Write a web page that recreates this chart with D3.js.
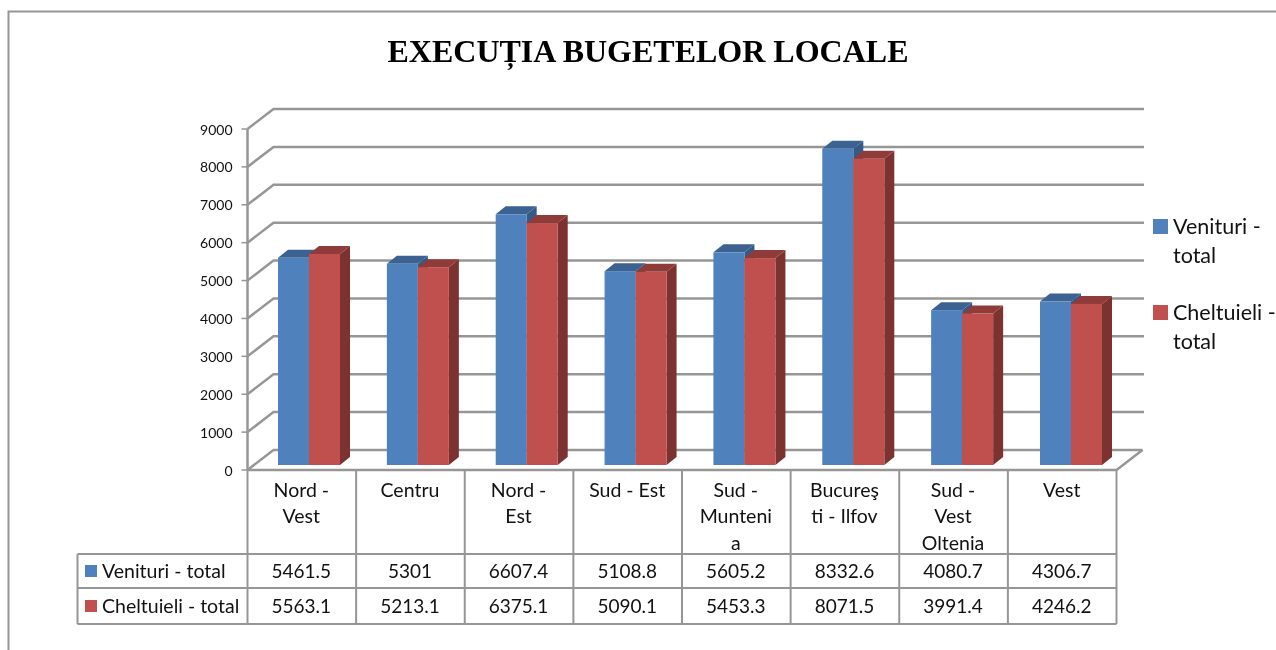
<!DOCTYPE html>
<html><head><meta charset="utf-8">
<script src="https://cdn.jsdelivr.net/npm/d3@7/dist/d3.min.js"></script>
<style>html,body{margin:0;padding:0;background:#fff}svg{display:block;filter:blur(0.35px)}text{font-family:Lato,"Open Sans",sans-serif;fill:#111}</style>
</head><body><svg id="c" width="1276" height="650"></svg>
<script>
const chartTitle = "EXECUȚIA BUGETELOR LOCALE";
const categories = ["Nord - Vest","Centru","Nord - Est","Sud - Est","Sud - Muntenia","București - Ilfov","Sud - Vest Oltenia","Vest"];
const categoryLines = [["Nord -","Vest"],["Centru"],["Nord -","Est"],["Sud - Est"],["Sud -","Munteni","a"],["Bucureş","ti - Ilfov"],["Sud -","Vest","Oltenia"],["Vest"]];
const seriesNames = ["Venituri - total","Cheltuieli - total"];
const venituri = [5461.5,5301,6607.4,5108.8,5605.2,8332.6,4080.7,4306.7];
const cheltuieli = [5563.1,5213.1,6375.1,5090.1,5453.3,8071.5,3991.4,4246.2];
const yTicks = [0,1000,2000,3000,4000,5000,6000,7000,8000,9000];
const colors = ["#4f81bd","#c0504d"];
const topColors = ["#3b6291","#8f3b39"];
const sideColors = ["#365a85","#7b3230"];

const grey = "#969696";
const svg = d3.select("#c");
svg.append("path").attr("d","M8.5,650V11.5H1276").attr("fill","none").attr("stroke",grey).attr("stroke-width",2);
svg.append("text").text(chartTitle).attr("x",648).attr("y",62).attr("text-anchor","middle")
  .style("font-family","'Liberation Serif',serif").style("font-weight","bold").style("font-size","32px").style("fill","#000");

const x = d3.scaleBand().domain(categories).range([247.5,1116.5]);
const yFront = d3.scaleLinear().domain([0,9000]).range([470,129]);
const yBar = d3.scaleLinear().domain([0,9000]).range([465,123.5]);
const barX = d3.scaleLinear().domain([0,7]).range([278,1040]);
const depthX = 26, depthY = 20;
const g = svg.append("g");

const gridLine = d3.line();
yTicks.forEach(t=>{
  const y0 = yFront(t);
  const right = t===0 ? x.range()[1]+depthX : 1144;
  g.append("path").attr("d",gridLine([[x.range()[0],y0],[x.range()[0]+depthX,y0-depthY],[right,y0-depthY]]))
    .attr("fill","none").attr("stroke",grey).attr("stroke-width",2.5);
  g.append("line").attr("x1",x.range()[0]-6).attr("x2",x.range()[0]).attr("y1",y0).attr("y2",y0).attr("stroke",grey).attr("stroke-width",1.5);
  g.append("text").text(t).attr("x",232.5).attr("y",y0+5.5).attr("text-anchor","end").style("font-size","14px");
});
g.append("line").attr("x1",x.range()[0]).attr("x2",x.range()[0]).attr("y1",yFront(0)).attr("y2",yFront(9000)).attr("stroke",grey).attr("stroke-width",2.5);
g.append("path").attr("d",gridLine([[x.range()[0],470],[x.range()[1],470],[x.range()[1]+depthX,470-depthY]])).attr("fill","none").attr("stroke",grey).attr("stroke-width",2.5);

const barW = 31, bdx = 10, bdy = 8;
categories.forEach((c,i)=>{
  [venituri[i],cheltuieli[i]].forEach((v,s)=>{
    const l = barX(i)+s*barW, r = l+barW, t = yBar(v), b = yBar(0);
    g.append("path").attr("d",`M${r},${t}L${r+bdx},${t-bdy}V${b-bdy}L${r},${b}Z`).attr("fill",sideColors[s]);
    g.append("path").attr("d",`M${l},${t}L${l+bdx},${t-bdy}H${r+bdx}L${r},${t}Z`).attr("fill",topColors[s]);
    g.append("rect").attr("x",l).attr("y",t).attr("width",barW).attr("height",b-t).attr("fill",colors[s]);
  });
});

const rowY = [470,554,588,624];
const tableLeft = 77.5;
const tl = svg.append("g").attr("stroke",grey).attr("stroke-width",2);
x.domain().forEach(c=>tl.append("line").attr("x1",x(c)).attr("x2",x(c)).attr("y1",rowY[0]).attr("y2",rowY[3]));
tl.append("line").attr("x1",x.range()[1]).attr("x2",x.range()[1]).attr("y1",rowY[0]).attr("y2",rowY[3]);
tl.append("line").attr("x1",tableLeft).attr("x2",tableLeft).attr("y1",rowY[1]).attr("y2",rowY[3]);
rowY.slice(1).forEach(y=>tl.append("line").attr("x1",tableLeft).attr("x2",x.range()[1]).attr("y1",y).attr("y2",y));

categories.forEach((c,i)=>{
  const cx = x(c)+x.bandwidth()/2;
  categoryLines[i].forEach((line,k)=>{
    svg.append("text").text(line).attr("x",cx-0.5).attr("y",497+k*26.3).attr("text-anchor","middle").style("font-size","19.5px");
  });
  svg.append("text").text(venituri[i]).attr("x",cx-0.5).attr("y",577.5).attr("text-anchor","middle").style("font-size","19px");
  svg.append("text").text(cheltuieli[i]).attr("x",cx-0.5).attr("y",612.5).attr("text-anchor","middle").style("font-size","19px");
});
seriesNames.forEach((n,s)=>{
  const yy = [571,606][s];
  svg.append("rect").attr("x",85).attr("y",yy-6).attr("width",12).attr("height",12).attr("fill",colors[s]);
  svg.append("text").text(n).attr("x",102).attr("y",yy+6.5).style("font-size","19.5px");
  const ly = [226,312][s];
  svg.append("rect").attr("x",1153).attr("y",ly-7).attr("width",15).attr("height",15).attr("fill",colors[s]);
  const parts = [n.split(" - ")[0]+" -", n.split(" - ")[1]];
  parts.forEach((p,k)=>svg.append("text").text(p).attr("x",1173).attr("y",ly+8+k*28.5).style("font-size","21.5px"));
});
</script></body></html>
